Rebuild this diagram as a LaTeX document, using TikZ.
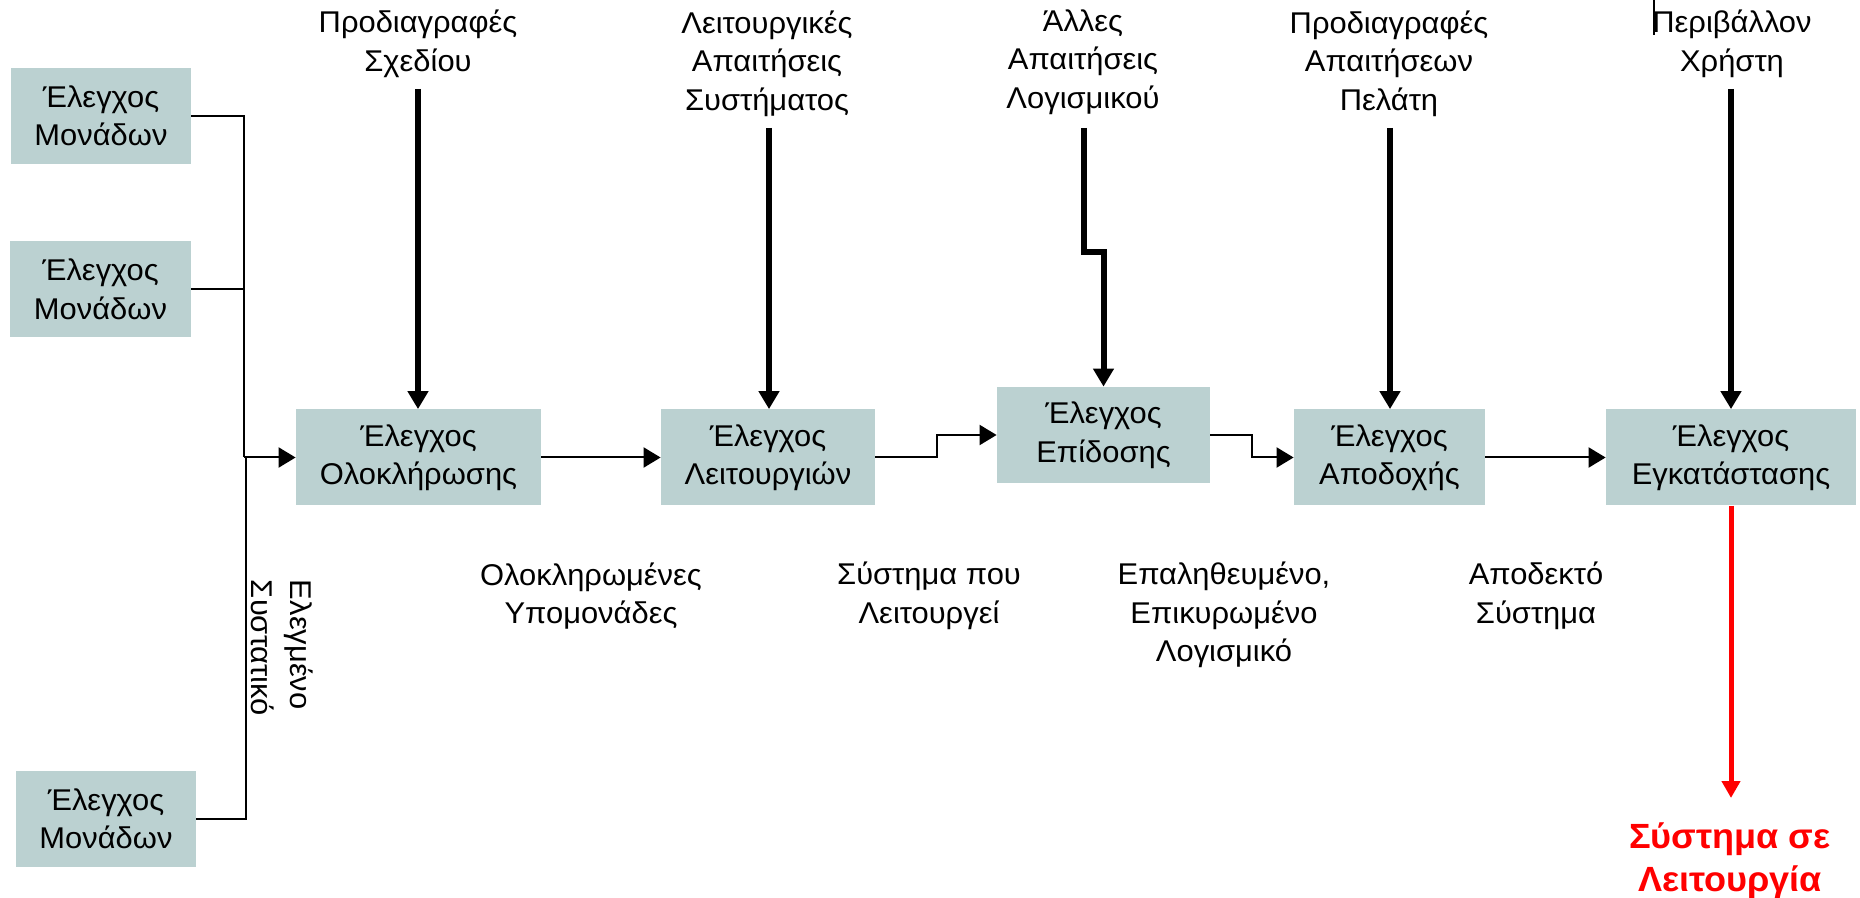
\documentclass[tikz,border=0pt]{standalone}
\usepackage{fontspec}
\setmainfont{Liberation Sans}[FakeStretch=1.03]
\usetikzlibrary{arrows.meta}
\definecolor{boxfill}{HTML}{BBD1D1}
\begin{document}
\begin{tikzpicture}[x=0.5pt,y=-0.5pt,
  every node/.style={font=\fontsize{15pt}{19.25pt}\selectfont, align=center, inner sep=0pt},
  testbox/.style={fill=boxfill, minimum height=48pt},
  thinline/.style={line width=1pt},
  thinarrow/.style={line width=1pt, -{Triangle[width=10pt,length=8.5pt]}},
  thickarrow/.style={line width=3pt, -{Triangle[width=10pt,length=9pt]}},
  redarrow/.style={line width=2.5pt, red, -{Triangle[width=9pt,length=8.5pt]}}]
\useasboundingbox (0,0) rectangle (1860,898);

% boxes
\node[testbox, minimum width=90pt] (u1) at (101,116) {Έλεγχος\\Μονάδων};
\node[testbox, minimum width=90.5pt] (u2) at (100.5,289.5) {Έλεγχος\\Μονάδων};
\node[testbox, minimum width=90pt] (u3) at (106,819) {Έλεγχος\\Μονάδων};
\node[testbox, minimum width=122.5pt] (integ) at (418.5,457.5) {Έλεγχος\\Ολοκλήρωσης};
\node[testbox, minimum width=107pt] (func) at (768,457.5) {Έλεγχος\\Λειτουργιών};
\node[testbox, minimum width=106.5pt] (perf) at (1103.5,435) {Έλεγχος\\Επίδοσης};
\node[testbox, minimum width=95.5pt] (acc) at (1389.5,457.5) {Έλεγχος\\Αποδοχής};
\node[testbox, minimum width=125pt] (inst) at (1731,457.5) {Έλεγχος\\Εγκατάστασης};

% top labels
\node (sd) at (418,44) {Προδιαγραφές\\Σχεδίου};
\node (fr) at (767,63.5) {Λειτουργικές\\Απαιτήσεις\\Συστήματος};
\node (oth) at (1083,62) {Άλλες\\Απαιτήσεις\\Λογισμικού};
\node (crs) at (1389,63.5) {Προδιαγραφές\\Απαιτήσεων\\Πελάτη};
\node (env) at (1732,44) {Περιβάλλον\\Χρήστη};

% bottom labels
\node (im) at (591,596) {Ολοκληρωμένες\\Υπομονάδες};
\node (sw) at (929,596) {Σύστημα που\\Λειτουργεί};
\node (vv) at (1224,615) {Επαληθευμένο,\\Επικυρωμένο\\Λογισμικό};
\node (as) at (1536,596) {Αποδεκτό\\Σύστημα};
\node[rotate=-90, align=left] (tc) at (282,648) {Ελεγμένο\\Συστατικό};
\node[text=red, font=\bfseries\fontsize{17.5pt}{21.5pt}\selectfont] (op) at (1730,861) {Σύστημα σε\\Λειτουργία};

% thick input arrows
\coordinate (sdS) at (418,89);
\draw[thickarrow] (sdS) -- (sdS |- integ.north);
\coordinate (frS) at (769,128);
\draw[thickarrow] (frS) -- (frS |- func.north);
\coordinate (othS) at (1084,128);
\coordinate (othJ) at (1084,252);
\draw[thickarrow] (othS) -- (othJ) -- (othJ -| perf.north) -- (perf.north);
\coordinate (crsS) at (1390,128);
\draw[thickarrow] (crsS) -- (crsS |- acc.north);
\coordinate (envS) at (1731,89);
\draw[thickarrow] (envS) -- (envS |- inst.north);

% unit tests merge
\coordinate (jn) at (244,457.5);
\coordinate (jn2) at (246,457.5);
\draw[thinline] (u1.east) -| (jn);
\draw[thinline] (u2.east) -- (u2.east -| jn);
\draw[thinarrow] (jn) -- (integ.west);
\draw[thinline] (u3.east) -| (jn2);

% main flow
\coordinate (k1) at (937,457.5);
\coordinate (k2) at (1252,435);
\draw[thinarrow] (integ.east) -- (func.west);
\draw[thinarrow] (func.east) -- (k1) |- (perf.west);
\draw[thinarrow] (perf.east) -- (k2) |- (acc.west);
\draw[thinarrow] (acc.east) -- (inst.west);
\coordinate (opN) at (1731,798);
\draw[redarrow] (inst.south) -- (opN);

% stray mark
\coordinate (st1) at (1654,0);
\coordinate (st2) at (1654,35);
\draw[thinline] (st1) -- (st2);
\end{tikzpicture}
\end{document}
